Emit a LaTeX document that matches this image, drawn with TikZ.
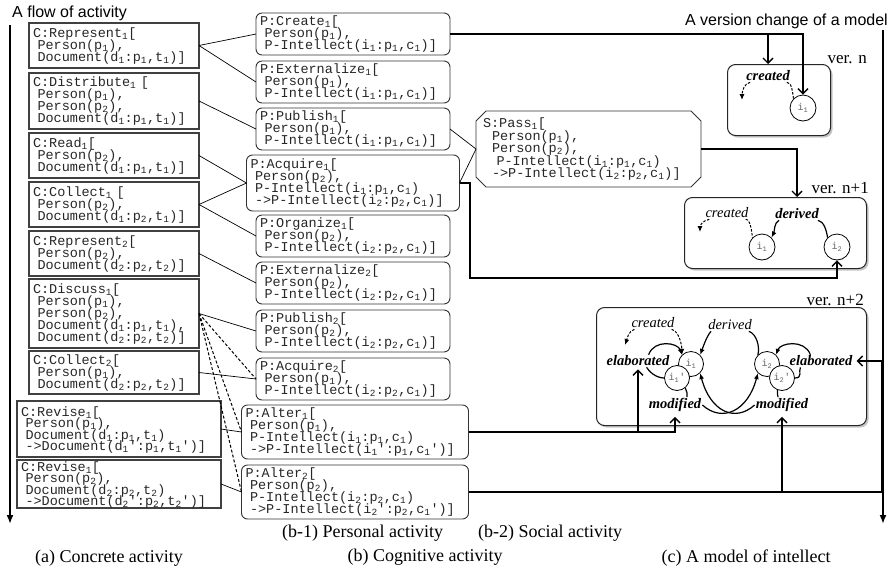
\documentclass[tikz,border=0pt]{standalone}
\usepackage{fontspec}
\setmainfont{Liberation Serif}
\setsansfont{Liberation Sans}
\setmonofont{Liberation Mono}
\usepackage{tikz}
\usetikzlibrary{positioning}
\usetikzlibrary{arrows.meta}
\usetikzlibrary{shadows}

\newcommand{\sbt}[1]{\textsubscript{#1}}
\newcommand{\boxfont}[1]{\ttfamily\fontsize{13.5}{#1}\selectfont\lineskip=0pt\lineskiplimit=-20pt}

\tikzset{
  tall/.style={text height=10pt, text depth=#1},
  act/.style={draw=black!75, line width=1.1pt, align=left, outer sep=0pt,
    inner xsep=4pt, inner ysep=1pt, text=black!85,
    font=\boxfont{12}, text width=#1, minimum height=45pt, tall=27pt},
  act/.default=162pt,
  cog/.style={draw=black!80, line width=0.9pt, rounded corners=6pt, align=left, outer sep=0pt,
    inner xsep=4pt, inner ysep=1pt, text=black!85,
    font=\boxfont{12}, text width=#1, minimum height=42pt, tall=27pt},
  cog/.default=186pt,
  soc/.style={align=left, inner xsep=7pt, inner ysep=1pt, outer sep=0pt, text=black!85,
    font=\boxfont{12.5}, text width=211pt, minimum height=76pt, tall=53pt},
  socline/.style={draw=black!80, line width=0.9pt},
  verbox/.style={draw=black!85, line width=1pt, rounded corners=8pt, fill=white,
    drop shadow={shadow xshift=2pt, shadow yshift=-2pt, fill=black!45},
    anchor=north west},
  verlbl/.style={font=\fontsize{17}{17}\selectfont, anchor=base east, inner sep=0pt},
  idea/.style={circle, draw, line width=0.8pt, fill=white, minimum size=26pt,
    inner sep=0pt, text=black!60, font=\ttfamily\fontsize{10}{10}\selectfont},
  relb/.style={font=\fontsize{14.5}{14.5}\selectfont\bfseries\itshape, inner sep=1pt},
  relr/.style={font=\fontsize{14.5}{14.5}\selectfont\itshape, inner sep=1pt},
  conn/.style={line width=0.7pt},
  dconn/.style={line width=1pt, dash pattern=on 3pt off 2pt},
  link/.style={line width=1.4pt, -{Straight Barb[length=5pt,width=10pt]}},
  marr/.style={line width=1.2pt, -{Latex[length=6pt,width=5pt]}},
  darr/.style={line width=1pt, dash pattern=on 2.5pt off 1.5pt, -{Latex[length=6pt,width=5pt]}},
  mline/.style={line width=1.2pt},
  dline/.style={line width=1pt, dash pattern=on 2.5pt off 1.5pt},
  flow/.style={line width=1.8pt, -{Latex[length=9pt,width=7pt]}},
  ttl/.style={font=\sffamily\fontsize{16}{16}\selectfont, inner sep=0pt},
  capt/.style={font=\fontsize{18}{18}\selectfont, inner sep=0pt}
}

\begin{document}
\begin{tikzpicture}[x=1pt, y=-1pt]
  \useasboundingbox (0,0) rectangle (889,571);

  % Titles and flow arrows
  \node[ttl, anchor=west] (flowttl) at (12,13) {A flow of activity};
  \node[ttl, anchor=east] (verttl) at (888,21) {A version change of a model};
  \coordinate (flowtop) at (10,25);
  \coordinate (flowbot) at (10,524);
  \coordinate (vertop) at (883,30);
  \coordinate (verbot) at (883,524);
  \draw[flow] (flowtop) -- (flowbot);
  \draw[flow] (vertop) -- (verbot);

  % (a) concrete activities
  \node[act, anchor=north west] (rep1) at (29,23)
    {C:Represent\sbt{1}[\\ ~Person(p\sbt{1}),\\ ~Document(d\sbt{1}:p\sbt{1},t\sbt{1})]};
  \node[act, minimum height=56pt, tall=39pt, below=5pt of rep1] (dist1)
    {C:Distribute\sbt{1}~[\\ ~Person(p\sbt{1}),\\ ~Person(p\sbt{2}),\\ ~Document(d\sbt{1}:p\sbt{1},t\sbt{1})]};
  \node[act, below=4pt of dist1] (read1)
    {C:Read\sbt{1}[\\ ~Person(p\sbt{2}),\\ ~Document(d\sbt{1}:p\sbt{1},t\sbt{1})]};
  \node[act, below=4pt of read1] (col1)
    {C:Collect\sbt{1}~[\\ ~Person(p\sbt{2}),\\ ~Document(d\sbt{1}:p\sbt{2},t\sbt{1})]};
  \node[act, below=4pt of col1] (rep2)
    {C:Represent\sbt{2}[\\ ~Person(p\sbt{2}),\\ ~Document(d\sbt{2}:p\sbt{2},t\sbt{2})]};
  \node[act, minimum height=69pt, tall=51pt, below=3pt of rep2] (disc1)
    {C:Discuss\sbt{1}[\\ ~Person(p\sbt{1}),\\ ~Person(p\sbt{2}),\\ ~Document(d\sbt{1}:p\sbt{1},t\sbt{1}),\\ ~Document(d\sbt{2}:p\sbt{2},t\sbt{2})]};
  \node[act, minimum height=43pt, below=3pt of disc1] (col2)
    {C:Collect\sbt{2}[\\ ~Person(p\sbt{1}),\\ ~Document(d\sbt{2}:p\sbt{2},t\sbt{2})]};
  \node[act=196pt, font=\boxfont{11.5}, minimum height=56pt, tall=35.5pt, below=7pt of col2, xshift=5pt] (rev1)
    {C:Revise\sbt{1}[\\ ~Person(p\sbt{1}),\\ ~Document(d\sbt{1}:p\sbt{1},t\sbt{1})\\ ~->Document(d\sbt{1}':p\sbt{1},t\sbt{1}')]};
  \node[act=196pt, font=\boxfont{11.5}, minimum height=48pt, tall=35.5pt, below=3pt of rev1] (rev2)
    {C:Revise\sbt{1}[\\ ~Person(p\sbt{2}),\\ ~Document(d\sbt{2}:p\sbt{2},t\sbt{2})\\ ~->Document(d\sbt{2}':p\sbt{2},t\sbt{2}')]};

  % (b-1) personal activities
  \node[cog, anchor=north west] (cre1) at (256,13)
    {P:Create\sbt{1}[\\ ~Person(p\sbt{1}),\\ ~P-Intellect(i\sbt{1}:p\sbt{1},c\sbt{1})]};
  \node[cog, below=6pt of cre1] (ext1)
    {P:Externalize\sbt{1}[\\ ~Person(p\sbt{1}),\\ ~P-Intellect(i\sbt{1}:p\sbt{1},c\sbt{1})]};
  \node[cog, below=5pt of ext1] (pub1)
    {P:Publish\sbt{1}[\\ ~Person(p\sbt{1}),\\ ~P-Intellect(i\sbt{1}:p\sbt{1},c\sbt{1})]};
  \node[cog=205pt, minimum height=56pt, tall=39pt, below=5pt of pub1] (acq1)
    {P:Acquire\sbt{1}[\\ ~Person(p\sbt{2}),\\ ~P-Intellect(i\sbt{1}:p\sbt{1},c\sbt{1})\\ ~->P-Intellect(i\sbt{2}:p\sbt{2},c\sbt{1})]};
  \node[cog, below=4pt of acq1] (org1)
    {P:Organize\sbt{1}[\\ ~Person(p\sbt{2}),\\ ~P-Intellect(i\sbt{2}:p\sbt{2},c\sbt{1})]};
  \node[cog, below=5pt of org1] (ext2)
    {P:Externalize\sbt{2}[\\ ~Person(p\sbt{2}),\\ ~P-Intellect(i\sbt{2}:p\sbt{2},c\sbt{1})]};
  \node[cog, below=6pt of ext2] (pub2)
    {P:Publish\sbt{2}[\\ ~Person(p\sbt{2}),\\ ~P-Intellect(i\sbt{2}:p\sbt{2},c\sbt{1})]};
  \node[cog, below=6pt of pub2] (acq2)
    {P:Acquire\sbt{2}[\\ ~Person(p\sbt{1}),\\ ~P-Intellect(i\sbt{2}:p\sbt{2},c\sbt{1})]};
  \node[cog=219pt, minimum height=54pt, tall=39pt, below=5pt of acq2, xshift=2pt] (alt1)
    {P:Alter\sbt{1}[\\ ~Person(p\sbt{1}),\\ ~P-Intellect(i\sbt{1}:p\sbt{1},c\sbt{1})\\ ~->P-Intellect(i\sbt{1}':p\sbt{1},c\sbt{1}')]};
  \node[cog=219pt, minimum height=54pt, tall=39pt, below=6pt of alt1] (alt2)
    {P:Alter\sbt{2}[\\ ~Person(p\sbt{2}),\\ ~P-Intellect(i\sbt{2}:p\sbt{2},c\sbt{1})\\ ~->P-Intellect(i\sbt{2}':p\sbt{2},c\sbt{1}')]};

  % (b-2) social activity
  \node[soc, anchor=north west] (pass1) at (476,111)
    {S:Pass\sbt{1}[\\ ~~Person(p\sbt{1}),\\ ~~Person(p\sbt{2}),\\ ~~~P-Intellect(i\sbt{1}:p\sbt{1},c\sbt{1})\\ ~~->P-Intellect(i\sbt{2}:p\sbt{2},c\sbt{1})]};
  \draw[socline] ([xshift=10pt]pass1.north west) -- ([xshift=-10pt]pass1.north east)
    -- ([yshift=-10pt]pass1.north east) -- ([yshift=10pt]pass1.south east)
    -- ([xshift=-10pt]pass1.south east) -- ([xshift=10pt]pass1.south west)
    -- ([yshift=10pt]pass1.south west) -- ([yshift=-10pt]pass1.north west) -- cycle;

  % Concrete -> cognitive
  \draw[conn] (rep1.east) -- (cre1.west);
  \draw[conn] (rep1.east) -- (ext1.west);
  \draw[conn] (dist1.east) -- (pub1.west);
  \draw[conn] (read1.east) -- (acq1.west);
  \draw[conn] (col1.east) -- (acq1.west);
  \draw[conn] (col1.east) -- (org1.west);
  \draw[conn] (rep2.east) -- (ext2.west);
  \draw[conn] (disc1.east) -- (pub2.west);
  \draw[conn] (col2.east) -- (acq2.west);
  \draw[conn] (rev1.east) -- (alt1.west);
  \draw[conn] (rev2.east) -- (alt2.west);
  \draw[dconn] (disc1.east) -- (acq2.west);
  \draw[dconn] (disc1.east) -- (alt1.west);
  \draw[dconn] (disc1.east) -- (alt2.west);
  \draw[conn] (pub1.east) -- (pass1.west);
  \draw[conn] (acq1.east) -- (pass1.west);

  % (c) versions of the model
  \node[verbox, minimum width=103pt, minimum height=71pt] (vern) at (727,64) {};
  \node[verbox, minimum width=182pt, minimum height=71pt] (vern1) at (684,197) {};
  \node[verbox, minimum width=270pt, minimum height=118pt] (vern2) at (596,307) {};
  \node[verlbl] (vlN) at (867,63) {ver. n};
  \node[verlbl] (vlN1) at (869,193) {ver. n+1};
  \node[verlbl] (vlN2) at (864,305) {ver. n+2};

  % ver. n
  \node[relb] (crN) at (768,76) {created};
  \node[idea] (iN) at (803,108) {i\sbt{1}};
  \coordinate (crNend) at (742,100);
  \draw[darr] ([xshift=5pt]crN.south west) .. controls +(-6,1) and +(0,-8) .. (crNend);
  \draw[dline] ([xshift=-4pt]crN.south east) .. controls +(5,0) and +(-1,-6) .. (iN.north west);

  % ver. n+1
  \node[relr] (crN1) at (727,213) {created};
  \node[relb] (derN1) at (797,214) {derived};
  \node[idea] (iA) at (762,247) {i\sbt{1}};
  \node[idea] (iB) at (837,247) {i\sbt{2}};
  \coordinate (crN1end) at (700,232);
  \draw[darr] ([xshift=5pt]crN1.south west) .. controls +(-6,1) and +(0,-7) .. (crN1end);
  \draw[dline] ([xshift=-4pt]crN1.south east) .. controls +(5,0) and +(-1,-6) .. (iA.north west);
  \draw[marr] ([xshift=5pt]derN1.south west) .. controls +(-5,2) and +(3,-6) .. (iA.north east);
  \draw[mline] ([xshift=-2pt]derN1.south east) .. controls +(6,1) and +(-1,-7) .. (iB.north west);

  % ver. n+2
  \node[relr] (crN2) at (653,323) {created};
  \node[relr] (derN2) at (730,325) {derived};
  \node[relb] (elabL) at (638,361) {elaborated};
  \node[relb] (elabR) at (821,361) {elaborated};
  \node[relb] (modL) at (675,405) {modified};
  \node[relb] (modR) at (782,405) {modified};
  \node[idea, minimum size=25pt] (iC) at (691,364) {i\sbt{1}};
  \node[idea, minimum size=25pt] (iCp) at (677,378) {i\sbt{1}'};
  \node[idea, minimum size=25pt] (iD) at (767,364) {i\sbt{2}};
  \node[idea, minimum size=25pt] (iDp) at (782,378) {i\sbt{2}'};
  \coordinate (crN2end) at (625,345);
  \draw[darr] ([xshift=4pt]crN2.south west) .. controls +(-6,2) and +(2,-6) .. (crN2end);
  \draw[darr] ([xshift=-4pt]crN2.south east) .. controls +(8,2) and +(0,-8) .. (iC.north west);
  \draw[marr] ([xshift=-22pt]elabL.north east) .. controls +(6,-16) and +(-4,-12) .. (iC.north west);
  \draw[mline] (iCp.west) .. controls +(-8,0) and +(2,4) .. ([xshift=-24pt]elabL.south east);
  \draw[marr] ([xshift=4pt]derN2.south west) .. controls +(-4,4) and +(3,-8) .. (iC.north east);
  \draw[mline] ([xshift=-4pt]derN2.south east) .. controls +(8,3) and +(2,-8) .. (iD.north west);
  \draw[marr] ([xshift=22pt]elabR.north west) .. controls +(-6,-16) and +(4,-12) .. (iD.north east);
  \draw[mline] (iDp.east) .. controls +(8,0) and +(-2,4) .. ([xshift=12pt]elabR.south west);
  \draw[mline] (iCp.-50) .. controls +(2,3) and +(0,-3) .. ([xshift=12pt]modL.north);
  \draw[mline] (iDp.250) .. controls +(-1,3) and +(0,-3) .. ([xshift=-4pt]modR.north);
  \draw[marr] (modL.east) .. controls +(20,18) and +(-10,38) .. (iD.south west);
  \draw[marr] (modR.west) .. controls +(-20,18) and +(10,38) .. (iC.south east);

  % Cognitive activity -> model
  \coordinate (acqturn) at (470,278);
  \draw[link] (cre1.east) -| (iN.north);
  \draw[link] (cre1.east -| crN) -- (crN |- vern.north);
  \draw[link] (pass1.east) -| (derN1 |- vern1.north);
  \draw[link] (acq1.east) -| (acqturn) -| (iB.south);
  \draw[link] (alt1.east) -| ([yshift=-4pt]modL.south);
  \draw[link] (alt1.east -| elabL) -- ([yshift=-2pt]elabL.south);
  \draw[link] (alt2.east) -| ([xshift=28pt]elabR.east) -- ([xshift=3pt]elabR.east);
  \draw[link] (alt2.east -| modR) -- ([yshift=-4pt]modR.south);

  % Captions
  \node[capt, anchor=west] (capB1) at (282,533) {(b-1) Personal activity};
  \node[capt, anchor=west] (capB2) at (478,533) {(b-2) Social activity};
  \node[capt] (capA) at (109,558) {(a) Concrete activity};
  \node[capt] (capB) at (425,557) {(b) Cognitive activity};
  \node[capt] (capC) at (746,558) {(c) A model of intellect};
\end{tikzpicture}
\end{document}
